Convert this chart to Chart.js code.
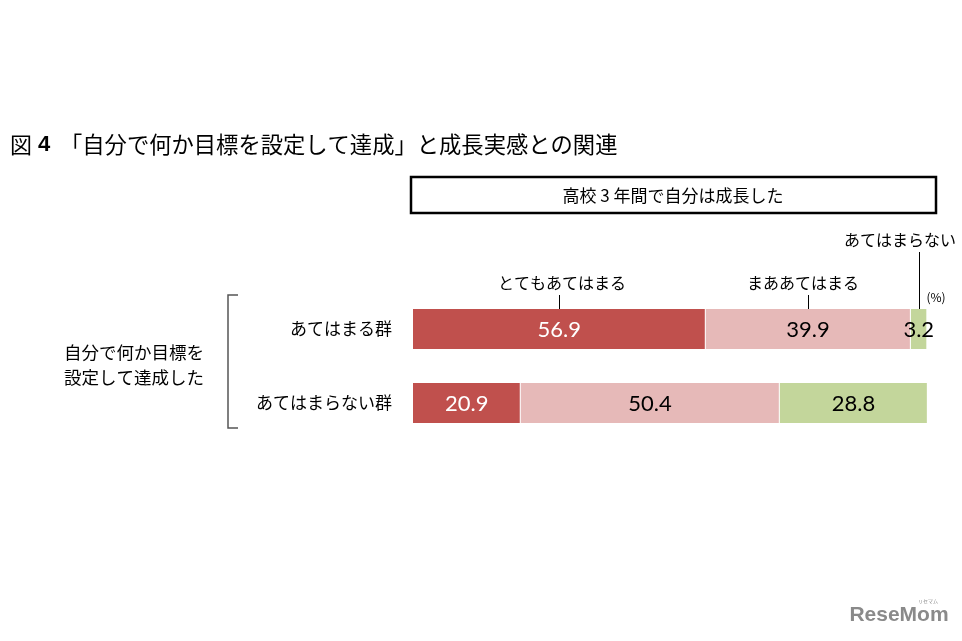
<!DOCTYPE html>
<html>
<head>
<meta charset="utf-8">
<script src="https://cdn.jsdelivr.net/npm/chart.js@4"></script>
<style>
  html, body { margin: 0; padding: 0; background: #fff; }
  #wrap { width: 962px; height: 641px; position: relative; }
</style>
</head>
<body>
<div id="wrap"><canvas id="chart" width="962" height="641"></canvas></div>
<script>
const groups = ['あてはまる群', 'あてはまらない群'];
const answers = ['とてもあてはまる', 'まああてはまる', 'あてはまらない'];
const veryTrue = [56.9, 20.9];
const fairlyTrue = [39.9, 50.4];
const notTrue = [3.2, 28.8];

const JP = '"Noto Sans CJK JP", sans-serif';
const NUM = 'Lato, "Noto Sans", sans-serif';

// titles, header box, bracket, leader lines
const extras = {
  id: 'extras',
  afterDraw(chart) {
    const ctx = chart.ctx;
    ctx.save();
    ctx.fillStyle = '#000';
    ctx.textBaseline = 'middle';

    // title
    ctx.textAlign = 'left';
    ctx.font = '22px ' + JP;
    ctx.fillText('図', 10, 145);
    ctx.font = 'bold 22px Arial, "Liberation Sans", sans-serif';
    ctx.fillText('4', 38, 145);
    ctx.font = '22.3px ' + JP;
    ctx.fillText('「自分で何か目標を設定して達成」と成長実感との関連', 60, 145);

    // header box
    ctx.lineWidth = 2.5;
    ctx.strokeStyle = '#000';
    ctx.strokeRect(411, 177, 525, 36);
    ctx.textAlign = 'center';
    ctx.font = '17px ' + JP;
    ctx.fillText('高校 3 年間で自分は成長した', 673, 196);

    // left group label and bracket
    ctx.font = '17.5px ' + JP;
    ctx.fillText('自分で何か目標を', 134, 352);
    ctx.fillText('設定して達成した', 134, 377);
    ctx.lineWidth = 1.5;
    ctx.strokeStyle = '#555';
    ctx.beginPath();
    ctx.moveTo(238, 295);
    ctx.lineTo(228, 295);
    ctx.lineTo(228, 428);
    ctx.lineTo(238, 428);
    ctx.stroke();

    // legend labels with leader lines on the first bar
    const top = chart.getDatasetMeta(0).data[0].y - 20;
    ctx.strokeStyle = '#000';
    ctx.lineWidth = 1;
    ctx.font = '16px ' + JP;
    const lab = [
      { x: 562, y: 283, lineTop: 295 },
      { x: 803, y: 283, lineTop: 295 },
      { x: 900, y: 240, lineTop: 252 }
    ];
    answers.forEach((a, i) => {
      const el = chart.getDatasetMeta(i).data[0];
      const cx = Math.round((el.x + el.base) / 2) + 0.5;
      ctx.fillText(a, lab[i].x, lab[i].y);
      ctx.beginPath();
      ctx.moveTo(cx, lab[i].lineTop);
      ctx.lineTo(cx, top);
      ctx.stroke();
    });

    ctx.font = '12px ' + JP;
    ctx.fillText('(%)', 936, 297);

    // watermark
    ctx.fillStyle = '#8a8a8a';
    ctx.font = 'bold 21px "Liberation Sans", Arial, sans-serif';
    ctx.fillText('ReseMom', 899, 615);
    ctx.font = '5px ' + JP;
    ctx.fillText('リセマム', 928, 601);
    ctx.restore();
  }
};

// values inside bars
const barValues = {
  id: 'barValues',
  afterDatasetsDraw(chart) {
    const ctx = chart.ctx;
    ctx.save();
    ctx.font = '22px ' + NUM;
    ctx.textAlign = 'center';
    ctx.textBaseline = 'middle';
    chart.data.datasets.forEach((ds, i) => {
      chart.getDatasetMeta(i).data.forEach((el, j) => {
        ctx.fillStyle = i === 0 ? '#fff' : '#000';
        ctx.fillText(ds.data[j].toFixed(1), (el.x + el.base) / 2, el.y + 1);
      });
    });
    ctx.restore();
  }
};

new Chart(document.getElementById('chart'), {
  type: 'bar',
  data: {
    labels: groups,
    datasets: [
      { label: answers[0], data: veryTrue, backgroundColor: '#C0504D' },
      { label: answers[1], data: fairlyTrue, backgroundColor: '#E6B9B8' },
      { label: answers[2], data: notTrue, backgroundColor: '#C3D69B' }
    ].map(d => Object.assign(d, {
      barThickness: 40,
      borderColor: '#fff',
      borderWidth: { top: 0, bottom: 0, left: 0, right: 1 },
      borderSkipped: false
    }))
  },
  options: {
    indexAxis: 'y',
    responsive: false,
    animation: false,
    layout: { padding: { left: 0, right: 35, top: 292, bottom: 201 } },
    scales: {
      x: { stacked: true, min: 0, max: 100, display: false },
      y: {
        stacked: true,
        grid: { display: false, drawTicks: false },
        border: { display: false },
        ticks: { color: '#000', font: { family: JP, size: 17 }, padding: 21 },
        afterFit(scale) { scale.width = 413; }
      }
    },
    plugins: {
      legend: { display: false },
      tooltip: { enabled: false }
    }
  },
  plugins: [barValues, extras]
});
</script>
</body>
</html>
